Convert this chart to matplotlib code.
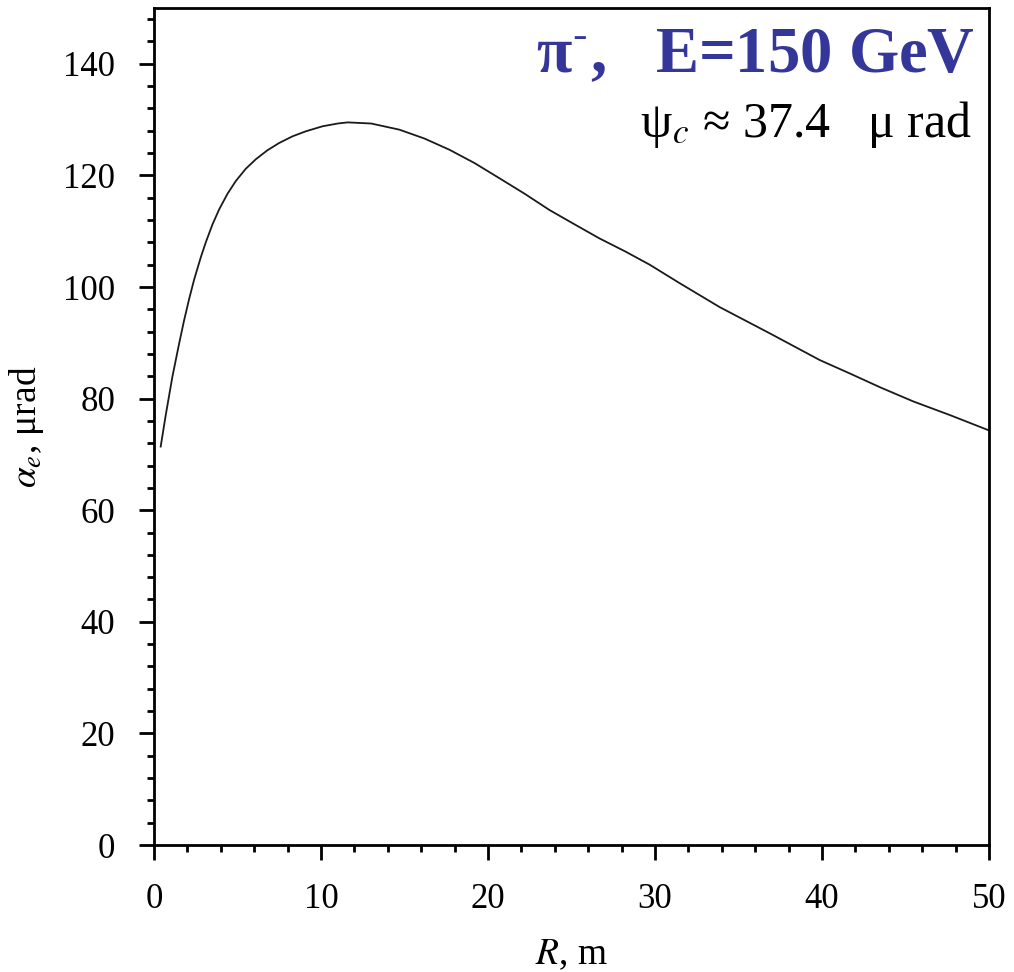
import matplotlib
matplotlib.use("Agg")
import matplotlib.pyplot as plt
from matplotlib.ticker import MultipleLocator

plt.rcParams['font.family'] = ['Liberation Serif', 'DejaVu Serif']
plt.rcParams['mathtext.fontset'] = 'stix'

# Data
R_m = [0.40, 0.70, 1.10, 1.50, 1.80, 2.10, 2.40, 2.80, 3.10, 3.50, 3.90, 4.40,
       4.90, 5.50, 6.10, 6.79, 7.49, 8.29, 9.09, 10.09, 11.0, 11.6,
       13.0, 14.69, 16.2, 17.69, 19.2, 20.68, 22.2, 23.68, 25.2, 26.68, 28.2,
       29.68, 31.47, 33.87, 36.87, 39.87, 41.67, 43.5, 45.46, 47.7, 50.0]
alpha_e = [71.4, 77.0, 83.9, 89.8, 94.0, 97.8, 101.3, 105.3, 108.0, 111.2,
           113.9, 116.7, 119.0, 121.2, 122.9, 124.5, 125.8, 127.0, 127.9, 128.8,
           129.3, 129.5, 129.3, 128.2, 126.6, 124.6, 122.2, 119.5, 116.7, 113.8,
           111.2, 108.7, 106.4, 104.0, 100.7, 96.4, 91.7, 86.9, 84.5, 82.0,
           79.5, 77.0, 74.3]

title_line1 = r'π$^{\text{-}}$,   E=150 GeV'
title_line2 = r'ψ$_{c}$ ≈ 37.4   μ rad'
xlabel = r'$R$, m'
ylabel = r'$\alpha_e$, μrad'

fig = plt.figure(figsize=(10.14, 9.72), dpi=100)
ax = fig.add_axes([154/1014, 1-845/972, (989-154)/1014, (845-8)/972])
ax.plot(R_m, alpha_e, color='#1a1a1a', lw=1.3)

ax.set_xlim(0, 50)
ax.set_ylim(0, 150)
ax.xaxis.set_major_locator(MultipleLocator(10))
ax.xaxis.set_minor_locator(MultipleLocator(2))
ax.yaxis.set_major_locator(MultipleLocator(20))
ax.yaxis.set_minor_locator(MultipleLocator(4))
ax.tick_params(which='both', direction='out', width=2, top=False, right=False,
               labelsize=25)
ax.tick_params(axis='x', which='both', pad=16)
ax.tick_params(axis='y', which='both', pad=17)
ax.tick_params(which='major', length=11)
ax.tick_params(which='minor', length=5)
for s in ax.spines.values():
    s.set_linewidth(2)

ax.set_xlabel(xlabel, fontsize=27, labelpad=16)
ax.set_ylabel(ylabel, fontsize=27, labelpad=12)

ax.text(0.983, 0.9235, title_line1, transform=ax.transAxes, ha='right',
        va='baseline', fontsize=46.5, fontweight='bold', color='#35369A')
ax.text(0.9796, 0.8459, title_line2, transform=ax.transAxes, ha='right',
        va='baseline', fontsize=36, color='black')

fig.savefig('out.png', dpi=100)
